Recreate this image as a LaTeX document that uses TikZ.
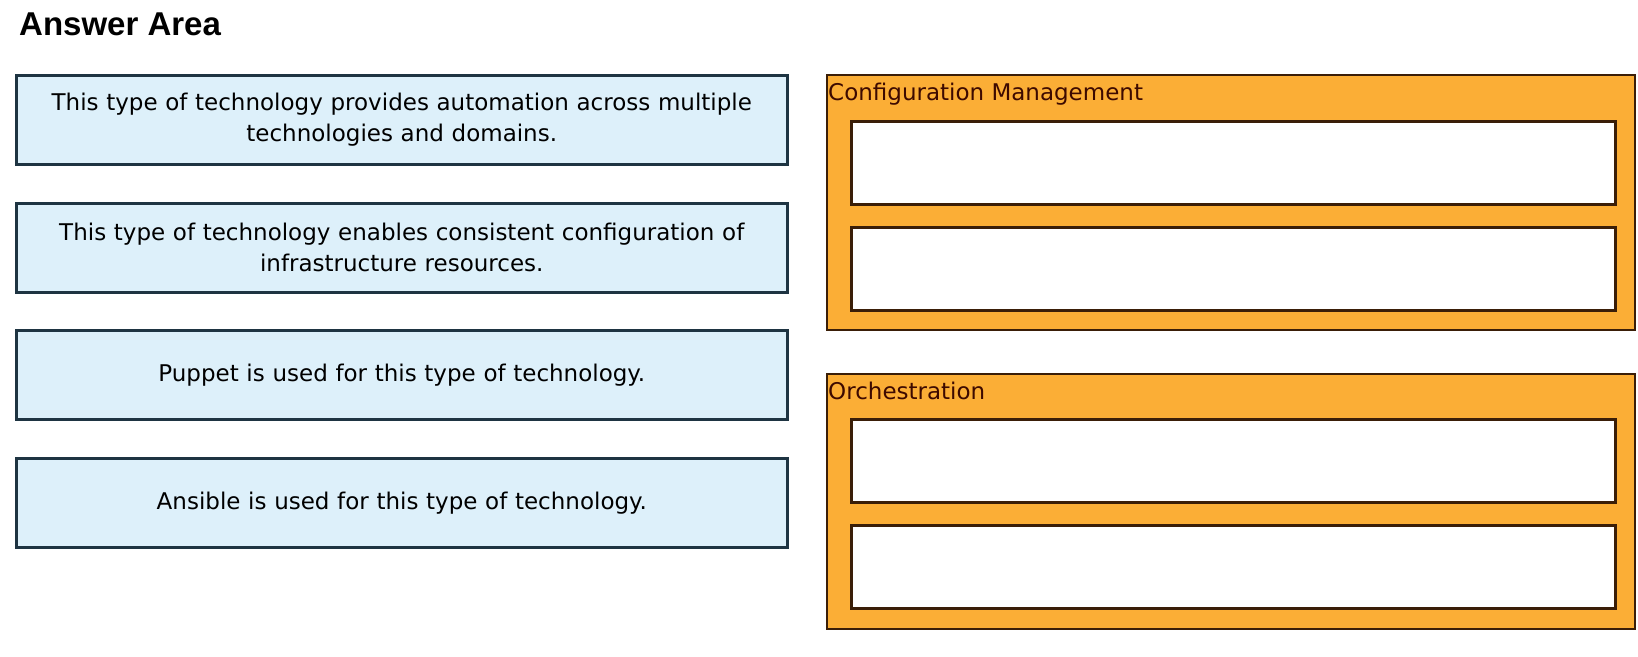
\documentclass[tikz,border=0pt]{standalone}
\usepackage{fontspec}
\setmainfont{DejaVu Sans}
\newfontfamily\titulofont{Liberation Sans}
\definecolor{celeste}{HTML}{DDF0FA}
\definecolor{bordeazul}{HTML}{1E3442}
\definecolor{naranja}{HTML}{FBAE36}
\definecolor{bordecafe}{HTML}{3A1E08}
\definecolor{textocafe}{HTML}{3D0A00}
\tikzset{
  enunciado/.style={draw=bordeazul, fill=celeste, line width=2.5pt, anchor=north west,
    minimum width=771pt, minimum height=89pt, text width=765pt, align=center,
    inner sep=0pt, font=\fontsize{23}{31}\selectfont},
  grupo/.style={draw=bordecafe, fill=naranja, line width=2pt, anchor=north west,
    minimum width=808pt, minimum height=255pt, inner sep=0pt},
  casilla/.style={draw=bordecafe, fill=white, line width=3pt, anchor=north west,
    minimum width=764pt, minimum height=83pt, inner sep=0pt},
  etiqueta/.style={anchor=base west, text=textocafe, inner sep=0pt,
    font=\fontsize{23}{26}\selectfont}
}
\begin{document}
\begin{tikzpicture}[x=1pt, y=-1pt]
			% Fijar el tamano del lienzo
			\useasboundingbox (0, 0) rectangle (1638, 656);

			% Titulo
			\node[anchor=base west, inner sep=0pt, font=\titulofont\bfseries\fontsize{33}{36}\selectfont] (titulo) at (19, 35) {Answer Area};

			% Enunciados de la izquierda
			\node[enunciado] (e1) at (15, 74) {This type of technology provides automation across multiple\\technologies and domains.};
			\node[enunciado] (e2) at (15, 202) {This type of technology enables consistent configuration of\\infrastructure resources.};
			\node[enunciado] (e3) at (15, 329) {Puppet is used for this type of technology.};
			\node[enunciado] (e4) at (15, 457) {Ansible is used for this type of technology.};

			% Grupo de la derecha: Configuration Management
			\node[grupo] (cm) at (826, 74) {};
			\node[etiqueta] (cmtitulo) at (828, 100) {Configuration Management};
			\node[casilla] (cm1) at (850, 120) {};
			\node[casilla] (cm2) at (850, 226) {};

			% Grupo de la derecha: Orchestration
			\node[grupo] (or) at (826, 373) {};
			\node[etiqueta] (ortitulo) at (828, 399) {Orchestration};
			\node[casilla] (or1) at (850, 418) {};
			\node[casilla] (or2) at (850, 524) {};

		\end{tikzpicture}
\end{document}
